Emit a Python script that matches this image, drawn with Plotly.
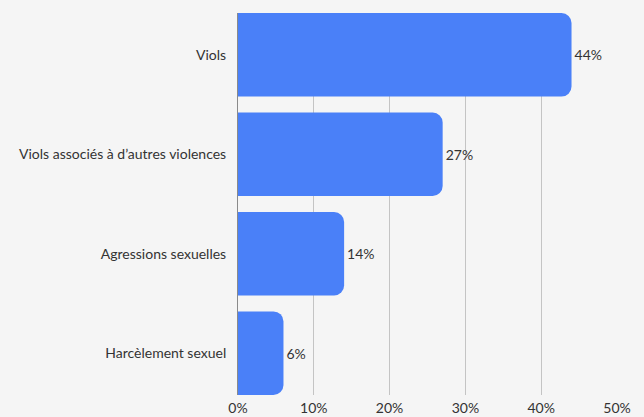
import plotly.graph_objects as go

categories = ["Viols", "Viols associés à d’autres violences", "Agressions sexuelles", "Harcèlement sexuel"]
values = [44, 27, 14, 6]
labels = ["44%", "27%", "14%", "6%"]
x_ticks = [0, 10, 20, 30, 40, 50]
x_tick_labels = ["0%", "10%", "20%", "30%", "40%", "50%"]

FONT = "Lato, sans-serif"

fig = go.Figure(go.Bar(
    x=values, y=categories, orientation="h",
    marker=dict(color="#4a80f8", line=dict(width=0)),
    text=labels, textposition="outside", cliponaxis=False,
    textfont=dict(family=FONT, size=14, color="#333333"),
    hoverinfo="skip",
))

fig.update_layout(
    width=644, height=417,
    margin=dict(l=238, r=27, t=13, b=22, autoexpand=False),
    paper_bgcolor="#f5f5f5", plot_bgcolor="#f5f5f5",
    bargap=0.16, barcornerradius=10,
    showlegend=False,
    font=dict(family=FONT, size=14, color="#333333"),
)
fig.update_xaxes(
    range=[0, 50], tickvals=x_ticks, ticktext=x_tick_labels,
    showgrid=True, gridcolor="#c4c4c4", gridwidth=1,
    zeroline=False, showline=False, ticks="", automargin=False,
    ticklabelstandoff=3,
    tickfont=dict(family=FONT, size=14, color="#333333"),
    fixedrange=True,
)
fig.update_yaxes(
    range=[3.42, -0.42], categoryorder="array", categoryarray=categories,
    showgrid=False, zeroline=False, showline=True, linecolor="#8a8a8a", linewidth=1,
    ticks="", ticklabelstandoff=8, automargin=False,
    tickfont=dict(family=FONT, size=14, color="#333333"),
    fixedrange=True,
)

fig.write_html(
    "out.html",
    config={"displayModeBar": False},
    post_script="document.body.style.margin='0';document.body.style.background='#f5f5f5';",
)
